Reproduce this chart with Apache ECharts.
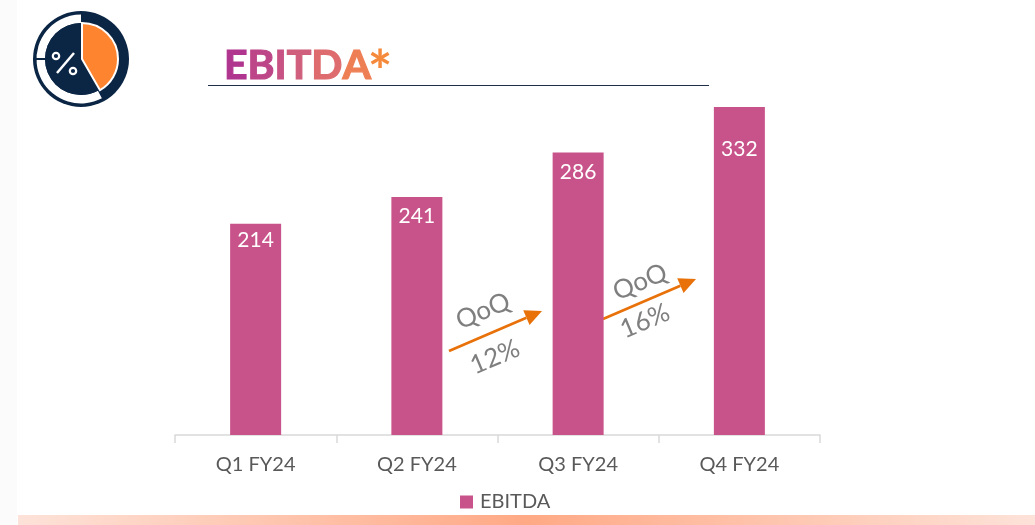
<!DOCTYPE html>
<html>
<head>
<meta charset="utf-8">
<title>EBITDA</title>
<script src="https://cdn.jsdelivr.net/npm/echarts@6/dist/echarts.min.js"></script>
<style>
html, body { margin: 0; padding: 0; background: #fff; }
#echart { width: 1035px; height: 525px; }
</style>
</head>
<body>
<div id="echart"></div>
<script>
var categories = ['Q1 FY24', 'Q2 FY24', 'Q3 FY24', 'Q4 FY24'];
var ebitda = [214, 241, 286, 332];
var seriesName = 'EBITDA';
var growthLabels = ['12%', '16%'];

var NAVY = '#0b2545';
var ORANGE = '#ff8430';
var ARROW = '#e8710a';
var GREY = '#7f7f7f';
var FONT = 'Lato, "Open Sans", sans-serif';

// the value labels do not sit at the same depth in each bar
var labelDepth = [6, 9, 9, 32];

var eChart = echarts.init(document.getElementById('echart'));

// --- logo, title and the page furniture ---------------------------------
function deg(a) { return a * Math.PI / 180; }

function logo() {
	var cx = 81, cy = 59;
	return [
		{ type: 'circle', shape: { cx: cx, cy: cy, r: 48 }, style: { fill: NAVY } },
		{ type: 'sector', shape: { cx: cx, cy: cy, r: 44.5, r0: 36, startAngle: deg(62), endAngle: deg(270) }, style: { fill: '#fff' } },
		{ type: 'rect', shape: { x: 36, y: 58, width: 11, height: 2 }, style: { fill: NAVY } },
		{ type: 'circle', shape: { cx: cx, cy: cy, r: 36 }, style: { fill: NAVY } },
		{ type: 'sector', shape: { cx: cx + 1, cy: cy, r: 36, r0: 0, startAngle: deg(-90), endAngle: deg(60) }, style: { fill: ORANGE, stroke: '#fff', lineWidth: 2 } },
		{ type: 'line', shape: { x1: 57, y1: 73, x2: 74, y2: 53 }, style: { stroke: '#fff', lineWidth: 2.5 } },
		{ type: 'circle', shape: { cx: 56, cy: 56, r: 3.2 }, style: { fill: NAVY, stroke: '#fff', lineWidth: 2.2 } },
		{ type: 'circle', shape: { cx: 73, cy: 71, r: 3.2 }, style: { fill: NAVY, stroke: '#fff', lineWidth: 2.2 } }
	];
}

function arrow(x1, y1, x2, y2) {
	var a = Math.atan2(y2 - y1, x2 - x1);
	var len = 17, half = 8;
	var bx = x2 - len * Math.cos(a), by = y2 - len * Math.sin(a);
	return [
		{ type: 'line', shape: { x1: x1, y1: y1, x2: bx, y2: by }, style: { stroke: ARROW, lineWidth: 2.6 } },
		{ type: 'polygon', shape: { points: [
			[x2, y2],
			[bx + half * Math.sin(a), by - half * Math.cos(a)],
			[bx - half * Math.sin(a), by + half * Math.cos(a)]
		] }, style: { fill: ARROW } }
	];
}

function slanted(text, x, y) {
	return {
		type: 'text', x: x, y: y, rotation: deg(23), originX: 0, originY: 0,
		style: { text: text, fill: GREY, font: '26px ' + FONT, align: 'center', verticalAlign: 'middle' }
	};
}

// gradient fill does not reach text here, so each letter gets its own colour
var titleColors = ['#b0358f', '#bd4688', '#c75283', '#cf5f7c', '#de6c6f', '#ee7f55'];

function titleText() {
	var letters = 'EBITDA'.split('');
	var rich = {};
	var parts = letters.map(function(ch, i) {
		rich['c' + i] = {
			fill: titleColors[i], stroke: titleColors[i], lineWidth: 1.2,
			fontSize: 41, fontWeight: 'bold', fontFamily: FONT
		};
		return '{c' + i + '|' + ch + '}';
	});
	return {
		type: 'text', x: 224, y: 66,
		style: { text: parts.join(''), rich: rich, align: 'left', verticalAlign: 'middle' }
	};
}

var graphics = [
	{ type: 'rect', shape: { x: 0, y: 0, width: 17, height: 525 }, style: { fill: '#fbfbfb' } },
	{
		type: 'rect', shape: { x: 18, y: 515, width: 1017, height: 10 },
		style: { fill: new echarts.graphic.LinearGradient(0, 0, 1, 0, [
			{ offset: 0, color: '#fde2d9' },
			{ offset: 0.5, color: '#ffa985' },
			{ offset: 1, color: '#fde2d9' }
		]) }
	},
	{ type: 'line', shape: { x1: 208, y1: 85.5, x2: 709, y2: 85.5 }, style: { stroke: '#1f2f46', lineWidth: 1 } },
	titleText(),
	{
		type: 'text', x: 380, y: 73,
		style: { text: '*', fill: '#f58a3c', font: 'bold 58px ' + FONT, align: 'center', verticalAlign: 'middle' }
	},
	slanted('QoQ', 483, 311),
	slanted(growthLabels[0], 495, 357),
	slanted('QoQ', 640, 282),
	slanted(growthLabels[1], 645, 321)
].concat(logo(), arrow(449, 351, 542, 311), arrow(603, 319, 696, 279));

// --- chart -----------------------------------------------------------------
var eChartOption = {
	animation: false,
	backgroundColor: '#fff',
	textStyle: { fontFamily: FONT },
	grid: { left: 175, top: 35, width: 645, height: 400 },
	legend: {
		data: [seriesName],
		left: 455,
		top: 487,
		itemWidth: 13,
		itemHeight: 13,
		itemGap: 10,
		icon: 'rect',
		textStyle: { color: '#595959', fontSize: 20, fontFamily: FONT, padding: [0, 0, 0, 2] }
	},
	xAxis: {
		type: 'category',
		data: categories,
		axisLine: { lineStyle: { color: '#d9d9d9', width: 1.5 } },
		axisTick: { show: true, alignWithLabel: false, length: 8, lineStyle: { color: '#d9d9d9', width: 1.5 } },
		axisLabel: { color: '#595959', fontSize: 20, margin: 20, fontFamily: FONT }
	},
	yAxis: {
		type: 'value',
		min: 0,
		max: 405,
		show: false,
		splitLine: { show: false }
	},
	series: [
		{
			name: seriesName,
			type: 'bar',
			data: ebitda.map(function(v, i) {
				return { value: v, label: { distance: labelDepth[i] } };
			}),
			barWidth: 51,
			itemStyle: { color: '#c8538a' },
			label: {
				show: true,
				position: 'insideTop',
				color: '#fff',
				fontSize: 21,
				fontFamily: FONT
			}
		}
	],
	graphic: { elements: graphics }
};

eChart.setOption(eChartOption);
</script>
</body>
</html>
